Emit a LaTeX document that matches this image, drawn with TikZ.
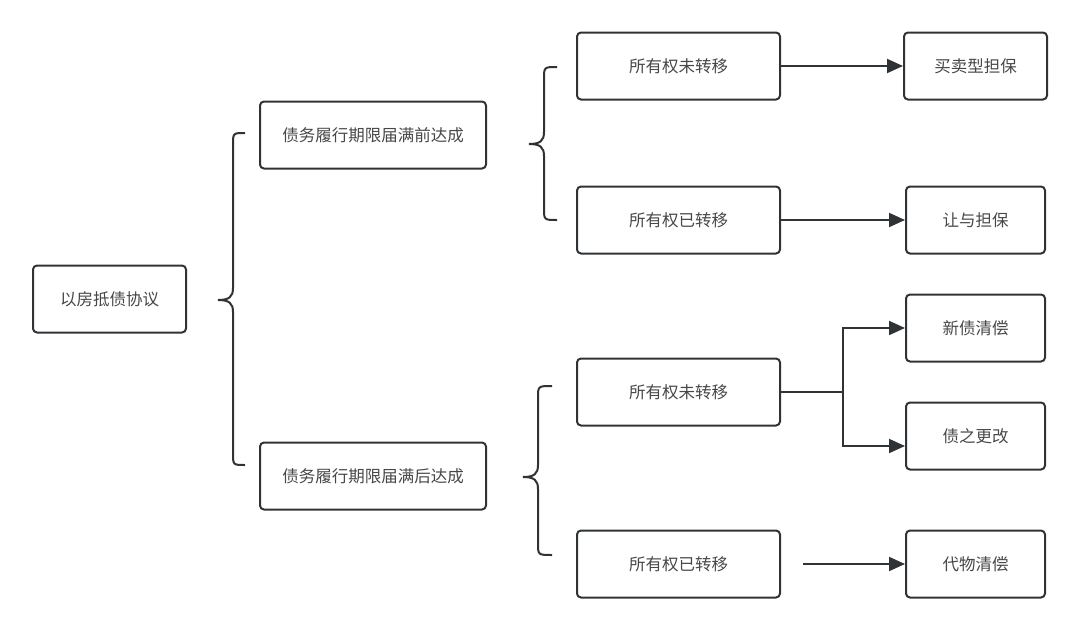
\documentclass[tikz,border=0pt]{standalone}
\usepackage{fontspec}
\usepackage{tikz}
\usepackage{xcolor}
\usetikzlibrary{arrows.meta, positioning}
\newfontfamily\cjk{Noto Sans CJK SC}
\definecolor{linegray}{HTML}{303336}
\definecolor{textgray}{HTML}{474747}

\begin{document}
\begin{tikzpicture}[x=1pt, y=-1pt,
        box/.style={draw=linegray, line width=2pt, rounded corners=4pt, minimum height=67pt,
            inner sep=0pt, text=textgray, font=\cjk\fontsize{16.5}{20}\selectfont},
        link/.style={draw=linegray, line width=2pt},
        arrow/.style={link, -{Triangle[length=16pt, width=14pt]}}]
        \useasboundingbox (0,0) rectangle (1080,630);

        \node[box, minimum width=153pt] (root) at (109.5, 299) {以房抵债协议};
        \node[box, minimum width=226pt] (pre) at (373, 135) {债务履行期限届满前达成};
        \node[box, minimum width=226pt] (post) at (373, 476) {债务履行期限届满后达成};

        \node[box, minimum width=203pt] (own1) at (678.5, 66) {所有权未转移};
        \node[box, minimum width=203pt] (own2) at (678.5, 220) {所有权已转移};
        \node[box, minimum width=203pt] (own3) at (678.5, 392) {所有权未转移};
        \node[box, minimum width=203pt] (own4) at (678.5, 564) {所有权已转移};

        \node[box, minimum width=143pt] (sale) at (975.5, 66) {买卖型担保};
        \node[box, minimum width=139pt] (transfer) at (975.5, 220) {让与担保};
        \node[box, minimum width=139pt] (newdebt) at (975.5, 328) {新债清偿};
        \node[box, minimum width=139pt] (novation) at (975.5, 436) {债之更改};
        \node[box, minimum width=139pt] (datio) at (975.5, 564) {代物清偿};

        % braces
        \draw[link] (245,133) .. controls (233,133) .. (233,145) -- (233,288)
            .. controls (233,297) and (229,300) .. (218,300)
            .. controls (229,300) and (233,303) .. (233,312) -- (233,453)
            .. controls (233,465) .. (245,465);
        \draw[link] (557,67) .. controls (544,67) .. (544,79) -- (544,132)
            .. controls (544,141) and (540,144) .. (529,144)
            .. controls (540,144) and (544,147) .. (544,156) -- (544,208)
            .. controls (544,220) .. (557,220);
        \draw[link] (552,386) .. controls (538,386) .. (538,398) -- (538,465)
            .. controls (538,474) and (534,477) .. (523,477)
            .. controls (534,477) and (538,480) .. (538,489) -- (538,543)
            .. controls (538,555) .. (552,555);

        % arrows
        \coordinate (split) at (843, 392);
        \coordinate (gap) at ([xshift=22pt]own4.east);
        \draw[arrow] (own1) -- (sale);
        \draw[arrow] (own2) -- (transfer);
        \draw[link] (own3) -- (split);
        \draw[arrow] (split) |- (newdebt);
        \draw[arrow] (split) |- ([yshift=-10pt]novation.west);
        \draw[arrow] (gap) -- (datio);
\end{tikzpicture}
\end{document}
